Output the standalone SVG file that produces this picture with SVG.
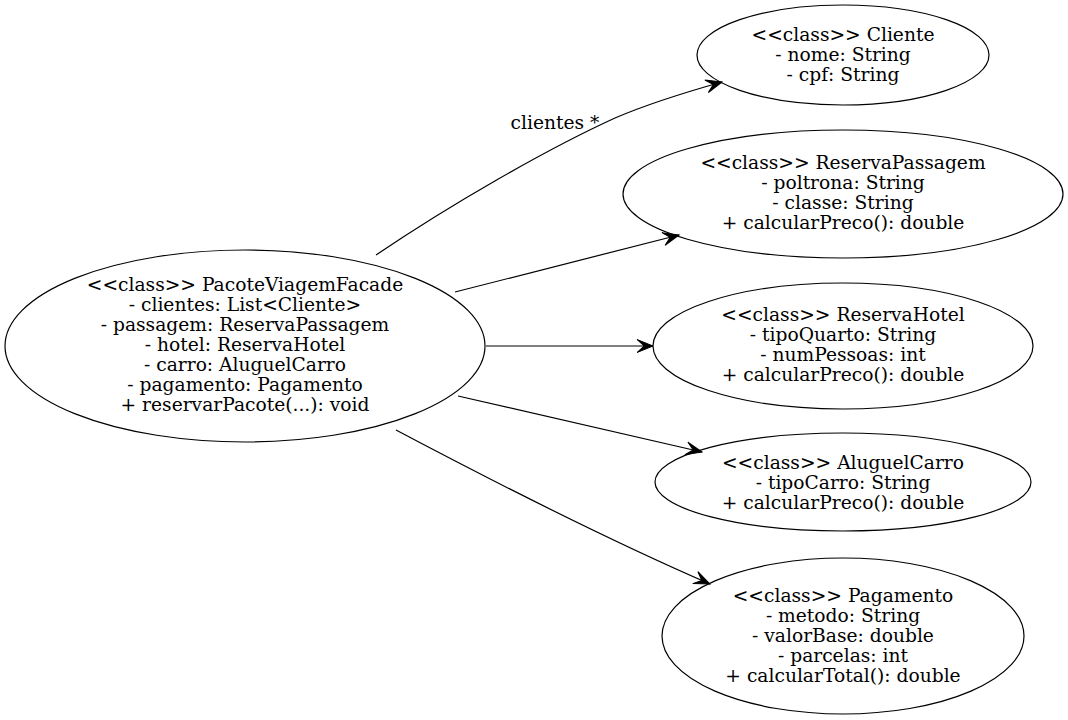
<svg xmlns="http://www.w3.org/2000/svg" width="1068" height="720" viewBox="0 0 1068 720">
<style>
.n ellipse{fill:none;stroke:#000;stroke-width:1.2}
text{font-family:"DejaVu Serif","Liberation Serif",serif;font-size:18.67px;fill:#000;text-anchor:middle}
.e path{fill:none;stroke:#000;stroke-width:1.2}
</style>
<defs>
<marker id="v" markerUnits="userSpaceOnUse" orient="auto" markerWidth="20" markerHeight="16" viewBox="-17 -8 20 16" refX="0" refY="0" overflow="visible">
<path d="M0,0 L-16,-6.5 L-9,0 L-16,6.5 Z" fill="#000" stroke="#000" stroke-width="1"/>
</marker>
</defs>
<rect width="1068" height="720" fill="#fff"/>
<g class="e" id="edges">
<path d="M376,255 C450,205 545,150 615,118 C650,103 690,91 722,82" marker-end="url(#v)"/>
<path d="M455,292 L679,235" marker-end="url(#v)"/>
<path d="M486,346 L653,346" marker-end="url(#v)"/>
<path d="M458,396 L702,452" marker-end="url(#v)"/>
<path d="M396,430 C500,485 620,545 710,584" marker-end="url(#v)"/>
<text x="555" y="129">clientes *</text>
</g>
<g class="n" id="PacoteViagemFacade">
<ellipse cx="245" cy="346" rx="240" ry="96"/>
<text x="245" y="291">&lt;&lt;class&gt;&gt; PacoteViagemFacade</text>
<text x="245" y="311">- clientes: List&lt;Cliente&gt;</text>
<text x="245" y="331">- passagem: ReservaPassagem</text>
<text x="245" y="351">- hotel: ReservaHotel</text>
<text x="245" y="371">- carro: AluguelCarro</text>
<text x="245" y="391">- pagamento: Pagamento</text>
<text x="245" y="411">+ reservarPacote(...): void</text>
</g>
<g class="n" id="Cliente">
<ellipse cx="843" cy="55" rx="146" ry="50"/>
<text x="843" y="41">&lt;&lt;class&gt;&gt; Cliente</text>
<text x="843" y="61">- nome: String</text>
<text x="843" y="81">- cpf: String</text>
</g>
<g class="n" id="ReservaPassagem">
<ellipse cx="843" cy="194" rx="220" ry="64"/>
<text x="843" y="169">&lt;&lt;class&gt;&gt; ReservaPassagem</text>
<text x="843" y="189">- poltrona: String</text>
<text x="843" y="209">- classe: String</text>
<text x="843" y="229">+ calcularPreco(): double</text>
</g>
<g class="n" id="ReservaHotel">
<ellipse cx="843" cy="346" rx="190" ry="63"/>
<text x="843" y="321">&lt;&lt;class&gt;&gt; ReservaHotel</text>
<text x="843" y="341">- tipoQuarto: String</text>
<text x="843" y="361">- numPessoas: int</text>
<text x="843" y="381">+ calcularPreco(): double</text>
</g>
<g class="n" id="AluguelCarro">
<ellipse cx="843" cy="482" rx="188" ry="49"/>
<text x="843" y="469">&lt;&lt;class&gt;&gt; AluguelCarro</text>
<text x="843" y="489">- tipoCarro: String</text>
<text x="843" y="509">+ calcularPreco(): double</text>
</g>
<g class="n" id="Pagamento">
<ellipse cx="843" cy="636" rx="181" ry="78"/>
<text x="843" y="602">&lt;&lt;class&gt;&gt; Pagamento</text>
<text x="843" y="622">- metodo: String</text>
<text x="843" y="642">- valorBase: double</text>
<text x="843" y="662">- parcelas: int</text>
<text x="843" y="682">+ calcularTotal(): double</text>
</g>
</svg>
